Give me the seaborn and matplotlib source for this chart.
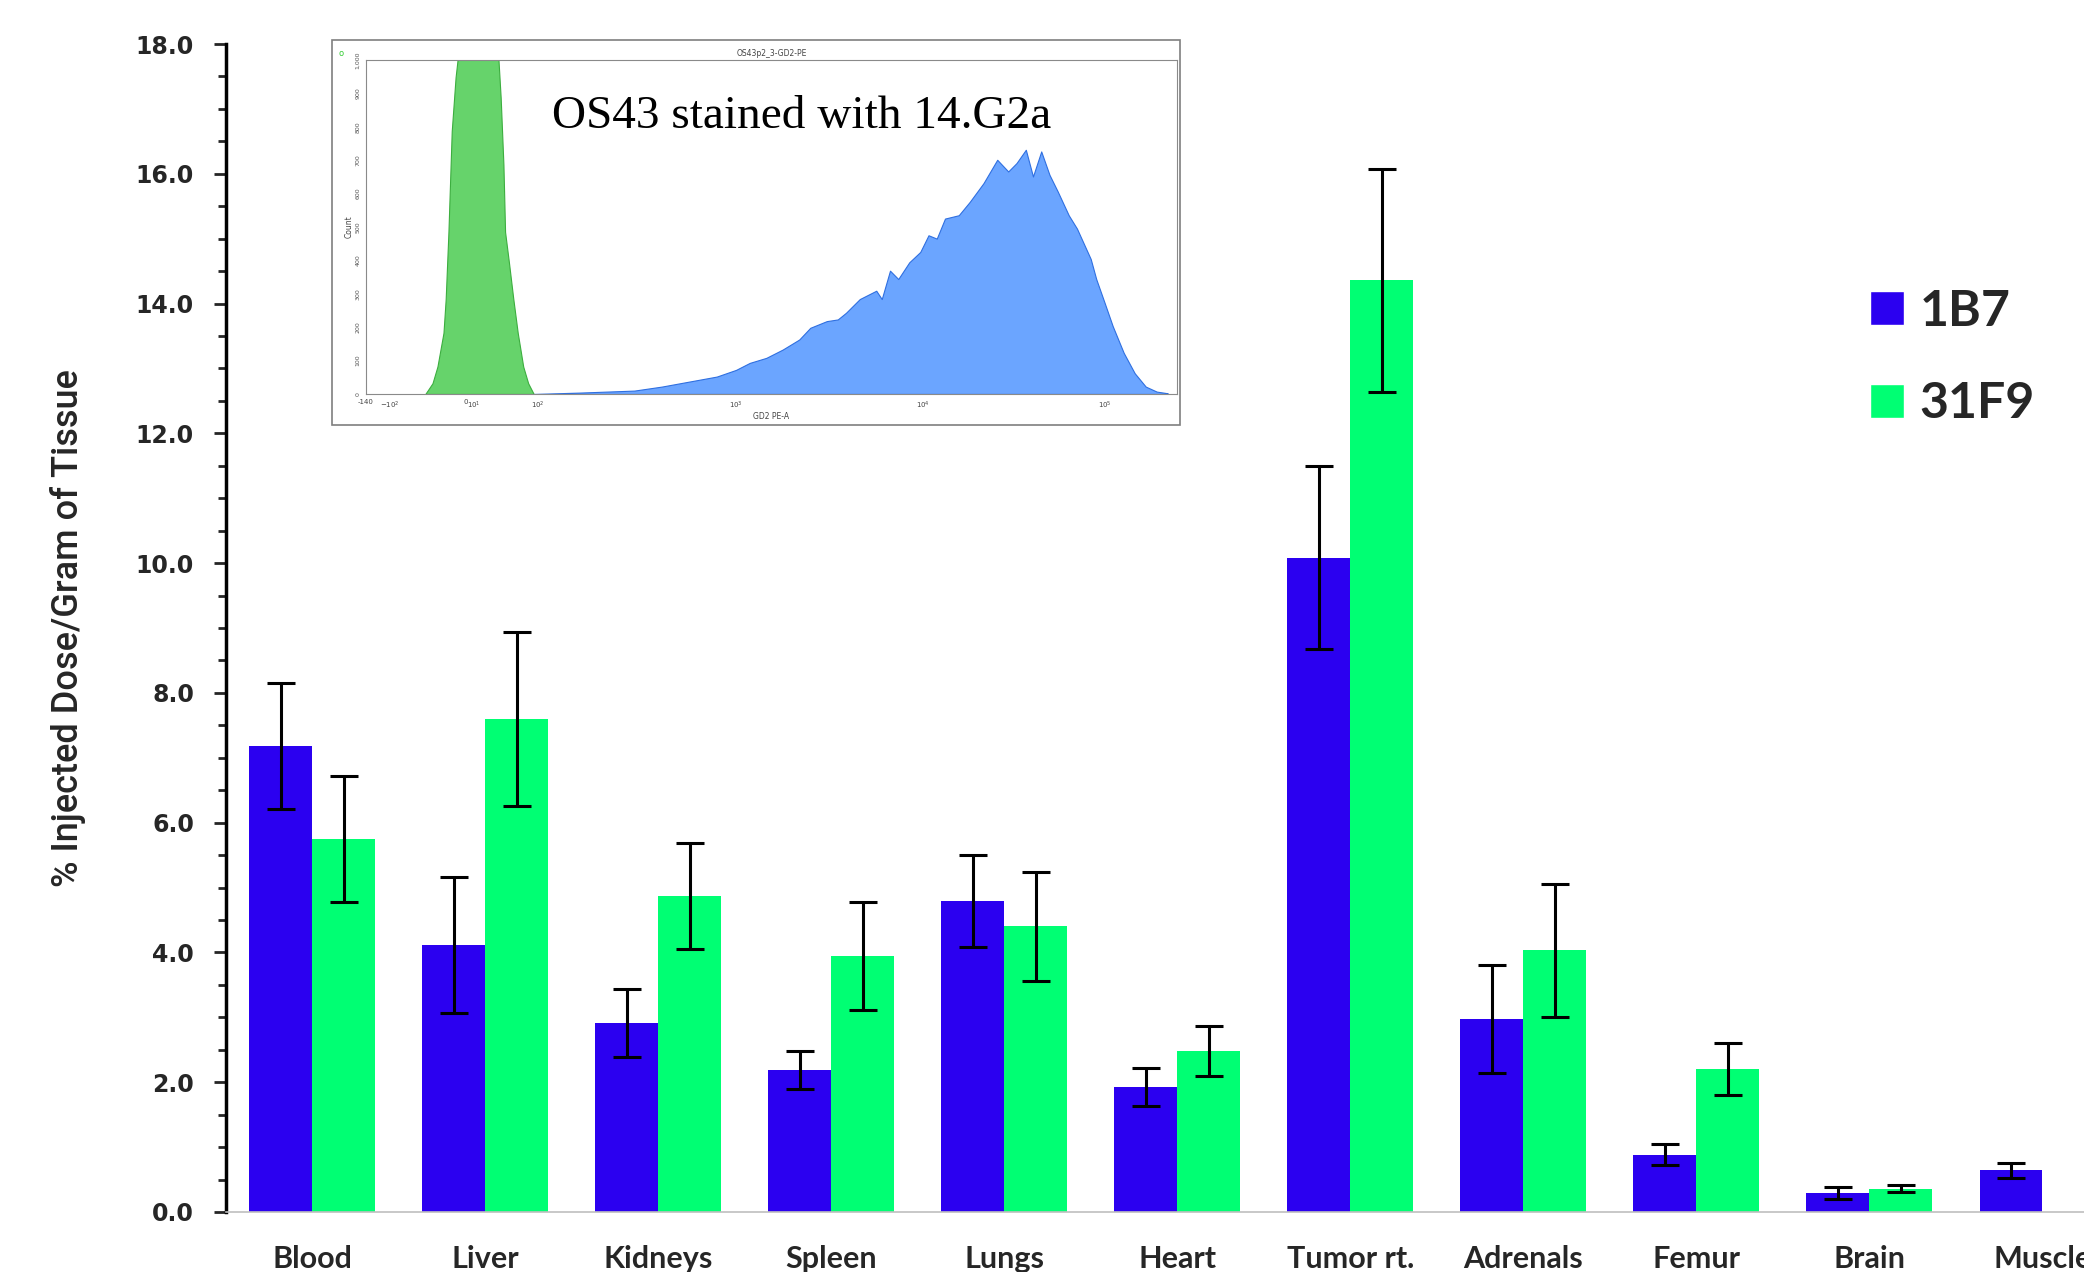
import numpy as np
import pandas as pd
import matplotlib
matplotlib.use("Agg")
import matplotlib.pyplot as plt
from matplotlib.patches import Rectangle, Patch
from matplotlib.ticker import MultipleLocator, FormatStrFormatter
import seaborn as sns

# ---------------- data ----------------
tissues = ["Blood", "Liver", "Kidneys", "Spleen", "Lungs", "Heart",
           "Tumor rt.", "Adrenals", "Femur", "Brain", "Muscle"]
antibodies = ["1B7", "31F9"]
vals_1b7 = [7.18, 4.12, 2.91, 2.19, 4.79, 1.93, 10.08, 2.97, 0.88, 0.29, 0.64]
err_1b7 = [0.97, 1.05, 0.52, 0.29, 0.71, 0.29, 1.41, 0.83, 0.16, 0.09, 0.12]
vals_31f9 = [5.75, 7.60, 4.87, 3.95, 4.40, 2.48, 14.36, 4.03, 2.21, 0.36, np.nan]
err_31f9 = [0.97, 1.34, 0.81, 0.83, 0.84, 0.38, 1.72, 1.02, 0.40, 0.05, np.nan]

# inset flow-cytometry histogram (x in channel units)
green_x = [170, 183, 192, 203, 207, 212, 218, 225, 232, 300, 303, 307, 312, 315,
           322, 330, 338, 348, 357, 367]
green_count = [0, 32, 82, 183, 284, 485, 787, 948, 1050, 1050, 1000, 887, 686, 485,
               394, 284, 183, 82, 32, 0]
blue_x = [367, 450, 500, 550, 600, 650, 700, 735, 760, 790, 820, 850, 870, 900, 920,
          935, 960, 990, 1000, 1015, 1030, 1050, 1070, 1085, 1100, 1115, 1140, 1160,
          1185, 1210, 1230, 1245, 1262, 1275, 1290, 1305, 1320, 1340, 1355, 1380,
          1390, 1405, 1420, 1440, 1460, 1480, 1500, 1520]
blue_count = [0, 4, 7, 10, 22, 37, 52, 72, 93, 108, 133, 163, 198, 218, 223,
              243, 284, 309, 284, 369, 344, 394, 425, 475, 465, 525, 535, 575,
              631, 701, 666, 691, 731, 651, 726, 656, 606, 535, 495, 404,
              344, 274, 203, 123, 62, 22, 7, 2]
inset_xticks = [62, 105, 243, 258, 375, 735, 1075, 1405]
inset_xticklabels = ["-140", r"$-10^{2}$", "0", r"$10^{1}$", r"$10^{2}$",
                     r"$10^{3}$", r"$10^{4}$", r"$10^{5}$"]
inset_yticks = [0, 100, 200, 300, 400, 500, 600, 700, 800, 900, 1000]
inset_yticklabels = ["0", "100", "200", "300", "400", "500", "600", "700",
                     "800", "900", "1,000"]

df = pd.DataFrame({
    "tissue": tissues * 2,
    "antibody": ["1B7"] * len(tissues) + ["31F9"] * len(tissues),
    "value": vals_1b7 + vals_31f9,
}).dropna()
errs = {"1B7": err_1b7, "31F9": err_31f9}

c_1b7 = "#2b00f0"
c_31f9 = "#00ff73"

# ---------------- figure ----------------
sns.set_style("white")
plt.rcParams["font.family"] = ["DejaVu Sans"]
fig = plt.figure(figsize=(20.84, 12.72), dpi=100)
ax = fig.add_axes([0.1084, 0.0472, 0.8916, 0.9182])

sns.barplot(data=df, x="tissue", y="value", hue="antibody", order=tissues,
            hue_order=antibodies, palette=[c_1b7, c_31f9], width=0.728, gap=0,
            errorbar=None, saturation=1, linewidth=0, ax=ax)

for cont, ab in zip(ax.containers, antibodies):
    for bar in cont:
        h = bar.get_height()
        if not np.isfinite(h):
            continue
        cx = bar.get_x() + bar.get_width() / 2
        idx = int(round(cx))
        ax.errorbar(cx, h, yerr=errs[ab][idx], fmt="none", ecolor="black",
                    elinewidth=2.2, capsize=10, capthick=2.2, zorder=5)

ax.set_xlim(-0.5, 10.24)
ax.set_ylim(0, 18)
ax.yaxis.set_major_locator(MultipleLocator(2))
ax.yaxis.set_minor_locator(MultipleLocator(0.5))
ax.yaxis.set_major_formatter(FormatStrFormatter("%.1f"))
ax.tick_params(axis="y", which="major", left=True, length=9, width=2,
               direction="out", pad=14, labelsize=17)
ax.tick_params(axis="y", which="minor", left=True, length=6, width=2,
               direction="out")
ax.tick_params(axis="x", length=0, pad=24)
for lab in ax.get_yticklabels():
    lab.set_fontweight("bold")
ax.set_xticks(range(len(tissues)))
ax.set_xticklabels(tissues, fontfamily="Lato", fontweight="bold", fontsize=22)
ax.set_xlabel("")
ax.set_ylabel("% Injected Dose/Gram of Tissue", fontfamily="Roboto",
              fontweight="medium", fontsize=26, labelpad=36)
for s in ["top", "right"]:
    ax.spines[s].set_visible(False)
ax.spines["left"].set_linewidth(2.5)
ax.spines["left"].set_color("black")
ax.spines["bottom"].set_linewidth(1.2)
ax.spines["bottom"].set_color("#bfbfbf")

if ax.get_legend() is not None:
    ax.get_legend().remove()
handles = [Patch(facecolor=c_1b7), Patch(facecolor=c_31f9)]
ax.legend(handles, antibodies, loc="upper left", bbox_to_anchor=(0.8975, 0.773),
          bbox_transform=fig.transFigure, frameon=False,
          prop=dict(family="Lato", weight="bold", size=36),
          handlelength=0.68, handleheight=0.68, handletextpad=0.3,
          labelspacing=0.95, borderpad=0, borderaxespad=0)

# ---------------- inset ----------------
fig.add_artist(Rectangle((0.1593, 0.6659), 0.4069, 0.3027,
                         transform=fig.transFigure, facecolor="white",
                         edgecolor="#7f7f7f", lw=1.2, zorder=3))
ax_in = fig.add_axes([0.1756, 0.6903, 0.3892, 0.2626], zorder=4)
ax_in.fill_between(green_x, green_count, color="#66d36b", edgecolor="#3cae3f",
                   lw=0.8)
ax_in.fill_between(blue_x, blue_count, color="#6ba5ff", edgecolor="#2f6fe0",
                   lw=0.8)
ax_in.set_xlim(65, 1537)
ax_in.set_ylim(0, 1000)
ax_in.set_xticks(inset_xticks)
ax_in.set_xticklabels(inset_xticklabels, fontsize=5, color="#444444")
ax_in.set_yticks(inset_yticks)
ax_in.set_yticklabels(inset_yticklabels, fontsize=4.5, color="#555555",
                      rotation=90, va="center")
minor = []
for a, b in [(375, 735), (735, 1075), (1075, 1405)]:
    for k in range(2, 10):
        minor.append(a + (b - a) * np.log10(k))
ax_in.set_xticks(minor, minor=True)
ax_in.tick_params(axis="both", which="major", length=3, width=0.6,
                  color="#666666", pad=1)
ax_in.tick_params(axis="x", which="minor", length=1.8, width=0.5,
                  color="#666666")
for s in ax_in.spines.values():
    s.set_color("#8a8a8a")
    s.set_linewidth(0.8)
ax_in.set_title("OS43p2_3-GD2-PE", fontsize=5.5, color="#444444", pad=3)
ax_in.set_xlabel("GD2 PE-A", fontsize=5.5, color="#444444", labelpad=1)
ax_in.set_ylabel("Count", fontsize=5.5, color="#444444", labelpad=1)
ax_in.text(0.537, 0.829, "OS43 stained with 14.G2a", transform=ax_in.transAxes,
           fontfamily="Liberation Serif", fontsize=34, ha="center",
           va="center", color="black")
fig.text(0.1635, 0.958, "o", fontsize=6, color="#33cc33", ha="center",
         va="center", zorder=6)

fig.savefig("out.png", dpi=100)
